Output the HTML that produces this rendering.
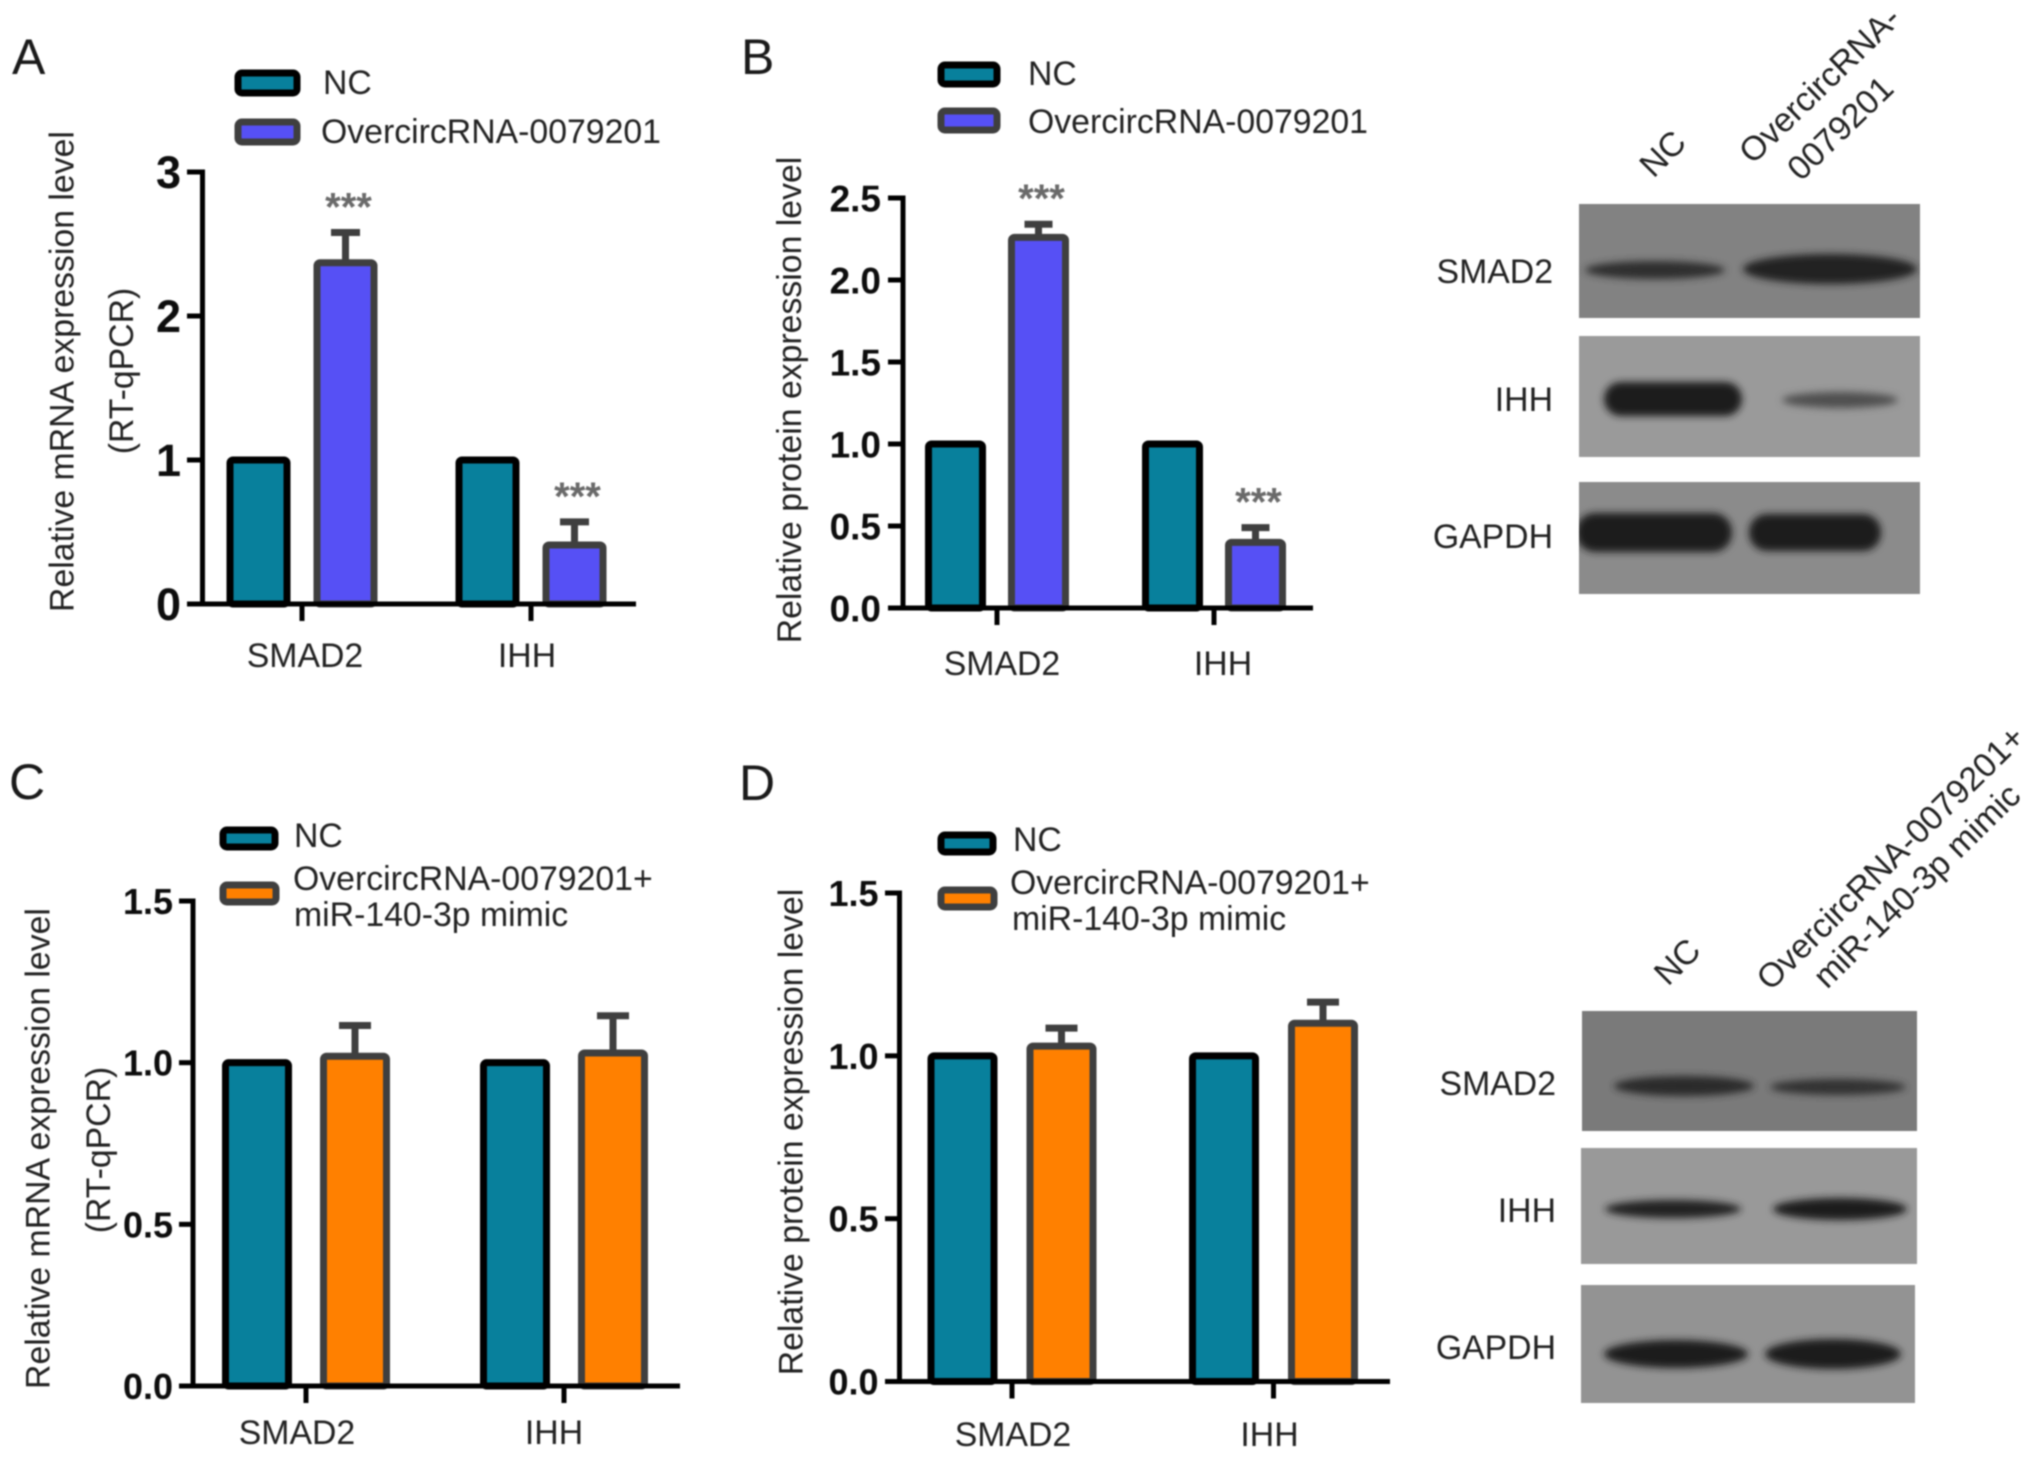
<!DOCTYPE html>
<html lang="en">
<head>
<meta charset="utf-8">
<title>SMAD2 and IHH expression</title>
<style>
html,body{margin:0;padding:0;background:#fff;width:2031px;height:1460px;overflow:hidden}
svg{display:block;filter:blur(0.8px)}
text{font-family:"Liberation Sans",Arial,sans-serif;fill:#222;font-size:33.8px}
.letter{font-size:50px;fill:#1a1a1a}
.lbl{text-anchor:end}
</style>
</head>
<body>
<svg id="figure" xmlns="http://www.w3.org/2000/svg" width="2031" height="1460" viewBox="0 0 2031 1460">
  <defs>
    <filter id="b3" x="-20%" y="-80%" width="140%" height="260%"><feGaussianBlur stdDeviation="3.6"/></filter>
    <clipPath id="clip-top-blot"><rect x="1579" y="204" width="341" height="390"/></clipPath>
  </defs>

  <rect width="2031" height="1460" fill="#ffffff"/>

  <text class="letter" x="12" y="74">A</text>
  <text class="letter" x="741" y="74">B</text>
  <text class="letter" x="9" y="799">C</text>
  <text class="letter" x="739" y="800">D</text>

  <!-- Y axis titles -->
  <text text-anchor="middle" transform="translate(73.5,371.5) rotate(-90)">Relative mRNA expression level</text>
  <text text-anchor="middle" transform="translate(133,371) rotate(-90)">(RT-qPCR)</text>
  <text text-anchor="middle" transform="translate(801,400) rotate(-90)">Relative protein expression level</text>
  <text text-anchor="middle" transform="translate(49.5,1148.5) rotate(-90)">Relative mRNA expression level</text>
  <text text-anchor="middle" transform="translate(110,1150) rotate(-90)">(RT-qPCR)</text>
  <text text-anchor="middle" transform="translate(802.5,1132) rotate(-90)">Relative protein expression level</text>

  <!-- Legends -->
  <g>
    <rect x="238" y="73" width="59" height="20" rx="4" fill="#08809c" stroke="#000" stroke-width="7"/>
    <text x="323" y="94">NC</text>
    <rect x="238" y="122" width="59" height="20" rx="4" fill="#5650f5" stroke="#3f3f3f" stroke-width="7"/>
    <text x="321" y="143">OvercircRNA-0079201</text>
  </g>
  <g>
    <rect x="941" y="65" width="56" height="19" rx="4" fill="#08809c" stroke="#000" stroke-width="7"/>
    <text x="1028" y="85">NC</text>
    <rect x="941" y="111" width="56" height="19" rx="4" fill="#5650f5" stroke="#3f3f3f" stroke-width="7"/>
    <text x="1028" y="133">OvercircRNA-0079201</text>
  </g>
  <g>
    <rect x="223" y="830" width="52" height="17" rx="4" fill="#08809c" stroke="#000" stroke-width="7"/>
    <text x="294" y="847">NC</text>
    <rect x="223" y="885" width="53" height="17" rx="4" fill="#ff8000" stroke="#3f3f3f" stroke-width="7"/>
    <text x="293" y="890">OvercircRNA-0079201+</text>
    <text x="294" y="926">miR-140-3p mimic</text>
  </g>
  <g>
    <rect x="941" y="835" width="52" height="17" rx="4" fill="#08809c" stroke="#000" stroke-width="7"/>
    <text x="1013" y="851">NC</text>
    <rect x="941" y="890" width="53" height="17" rx="4" fill="#ff8000" stroke="#3f3f3f" stroke-width="7"/>
    <text x="1010" y="894">OvercircRNA-0079201+</text>
    <text x="1012" y="930">miR-140-3p mimic</text>
  </g>

  <!-- Western blot, top -->
  <g>
    <text text-anchor="middle" dominant-baseline="central" transform="translate(1663,154) rotate(-45)">NC</text>
    <text text-anchor="middle" dominant-baseline="central" transform="translate(1820,85) rotate(-44)">OvercircRNA-</text>
    <text text-anchor="middle" dominant-baseline="central" transform="translate(1840.5,128.5) rotate(-44)">0079201</text>

    <text class="lbl" x="1553" y="283">SMAD2</text>
    <text class="lbl" x="1553" y="411">IHH</text>
    <text class="lbl" x="1553" y="548">GAPDH</text>

    <rect x="1579" y="204" width="341" height="114" fill="#828282"/>
    <rect x="1579" y="336" width="341" height="121" fill="#9a9a9a"/>
    <rect x="1579" y="482" width="341" height="112" fill="#8b8b8b"/>

    <ellipse cx="1655" cy="270" rx="70" ry="9" fill="#2e2e2e" filter="url(#b3)"/>
    <ellipse cx="1830" cy="269" rx="87" ry="15" fill="#222" filter="url(#b3)" clip-path="url(#clip-top-blot)"/>
    <rect x="1604" y="382" width="138" height="34" rx="17" fill="#1c1c1c" filter="url(#b3)"/>
    <ellipse cx="1840" cy="400" rx="58" ry="8" fill="#505050" filter="url(#b3)"/>
    <rect x="1576" y="513" width="156" height="39" rx="19" fill="#1e1e1e" filter="url(#b3)" clip-path="url(#clip-top-blot)"/>
    <rect x="1749" y="514" width="132" height="37" rx="18" fill="#1e1e1e" filter="url(#b3)"/>
  </g>

  <!-- Western blot, bottom -->
  <g>
    <text text-anchor="middle" dominant-baseline="central" transform="translate(1677.5,962) rotate(-45)">NC</text>
    <text text-anchor="middle" dominant-baseline="central" transform="translate(1891,858) rotate(-44.5)">OvercircRNA-0079201+</text>
    <text text-anchor="middle" dominant-baseline="central" transform="translate(1917,886) rotate(-44.5)">miR-140-3p mimic</text>

    <text class="lbl" x="1556" y="1095">SMAD2</text>
    <text class="lbl" x="1556" y="1222">IHH</text>
    <text class="lbl" x="1556" y="1359">GAPDH</text>

    <rect x="1582" y="1011" width="335" height="120" fill="#7a7a7a"/>
    <rect x="1581" y="1148" width="336" height="116" fill="#999999"/>
    <rect x="1581" y="1285" width="334" height="118" fill="#939393"/>

    <ellipse cx="1684" cy="1086" rx="70" ry="10" fill="#2a2a2a" filter="url(#b3)"/>
    <ellipse cx="1838" cy="1087" rx="68" ry="8" fill="#303030" filter="url(#b3)"/>
    <ellipse cx="1673" cy="1209" rx="68" ry="9" fill="#222" filter="url(#b3)"/>
    <ellipse cx="1840" cy="1209" rx="67" ry="11" fill="#1c1c1c" filter="url(#b3)"/>
    <ellipse cx="1676" cy="1354" rx="72" ry="14" fill="#1c1c1c" filter="url(#b3)"/>
    <ellipse cx="1833" cy="1354" rx="68" ry="15" fill="#1c1c1c" filter="url(#b3)"/>
  </g>
</svg>

<script>
// Panel A data
const panelACategories = ['SMAD2', 'IHH'];
const panelANc = [1, 1];
const panelATreated = [2.37, 0.41];
const panelAErrorTop = [2.58, 0.57];
const panelATicks = ['0', '1', '2', '3'];
const panelASignificance = ['***', '***'];

// Panel B data
const panelBCategories = ['SMAD2', 'IHH'];
const panelBNc = [1, 1];
const panelBTreated = [2.26, 0.40];
const panelBErrorTop = [2.34, 0.49];
const panelBTicks = ['0.0', '0.5', '1.0', '1.5', '2.0', '2.5'];
const panelBSignificance = ['***', '***'];

// Panel C data
const panelCCategories = ['SMAD2', 'IHH'];
const panelCNc = [1, 1];
const panelCTreated = [1.02, 1.03];
const panelCErrorTop = [1.115, 1.145];
const panelCTicks = ['0.0', '0.5', '1.0', '1.5'];
const panelCSignificance = ['', ''];

// Panel D data
const panelDCategories = ['SMAD2', 'IHH'];
const panelDNc = [1, 1];
const panelDTreated = [1.03, 1.10];
const panelDErrorTop = [1.085, 1.165];
const panelDTicks = ['0.0', '0.5', '1.0', '1.5'];
const panelDSignificance = ['', ''];

const SVG_NS = 'http://www.w3.org/2000/svg';
const figure = document.getElementById('figure');

function make(tag, props, parent) {
  const node = document.createElementNS(SVG_NS, tag);
  for (const key in props) node.setAttribute(key, props[key]);
  parent.appendChild(node);
  return node;
}

function drawPanel(id, layout, cats, nc, treated, errTop, ticks, sig) {
  const group = make('g', {}, figure);
  
  

  const maxTick = parseFloat(ticks[ticks.length - 1]);
  const yPos = v => layout.y0 - (v / maxTick) * (layout.y0 - layout.yTop);
  const xPos = i => layout.tick0 + layout.tickStep * i;

  // error bars behind the bars
  treated.forEach((v, i) => {
    const cx = xPos(i) + layout.offset;
    const stem = make('line', {x1: cx, x2: cx, y1: yPos(v), y2: yPos(errTop[i]), stroke: '#3f3f3f', 'stroke-width': 7}, group);
    
    
    const cap = make('line', {x1: cx - layout.capW / 2, x2: cx + layout.capW / 2, y1: yPos(errTop[i]), y2: yPos(errTop[i]), stroke: '#3f3f3f', 'stroke-width': 7}, group);
    
    
    if (sig[i]) {
      const star = make('text', {x: cx + 3, y: yPos(errTop[i]) - 12, 'text-anchor': 'middle', style: 'font-size:40px;font-weight:700;fill:#6a6a6a'}, group);
      star.textContent = sig[i];
      
      
    }
  });

  // bars
  const inner = layout.barW - 7;
  nc.forEach((v, i) => {
    const cx = xPos(i) - layout.offset;
    const bar = make('rect', {x: cx - inner / 2, y: yPos(v), width: inner, height: layout.y0 - yPos(v), rx: 3, fill: '#08809c', stroke: '#000', 'stroke-width': 7}, group);
    
    
  });
  treated.forEach((v, i) => {
    const cx = xPos(i) + layout.offset;
    const bar = make('rect', {x: cx - inner / 2, y: yPos(v), width: inner, height: layout.y0 - yPos(v), rx: 3, fill: layout.color, stroke: '#3f3f3f', 'stroke-width': 7}, group);
    
    
  });

  // axes
  const yAxis = make('line', {x1: layout.axisX, x2: layout.axisX, y1: layout.yTop - 2.5, y2: layout.y0 + 2.5, stroke: '#000', 'stroke-width': 5}, group);
  
  
  const xAxis = make('line', {x1: layout.xStart, x2: layout.xEnd, y1: layout.y0, y2: layout.y0, stroke: '#000', 'stroke-width': 5}, group);
  
  

  ticks.forEach(label => {
    const v = parseFloat(label);
    const mark = make('line', {x1: layout.xStart, x2: layout.axisX, y1: yPos(v), y2: yPos(v), stroke: '#000', 'stroke-width': 5}, group);
    
    
    const txt = make('text', {x: layout.labelRight, y: yPos(v) + layout.tickFont * 0.36, 'text-anchor': 'end', style: 'font-weight:700;fill:#0d0d0d;font-size:' + layout.tickFont + 'px'}, group);
    txt.textContent = label;
    
    
  });

  cats.forEach((name, i) => {
    const mark = make('line', {x1: xPos(i), x2: xPos(i), y1: layout.y0, y2: layout.y0 + 17, stroke: '#000', 'stroke-width': 5}, group);
    
    
    const txt = make('text', {x: xPos(i) + layout.catDx[i], y: layout.catY, 'text-anchor': 'middle'}, group);
    txt.textContent = name;
    
    
  });
}

drawPanel('a', {axisX: 202.5, y0: 604, yTop: 172, xStart: 187, xEnd: 636, tick0: 302, tickStep: 229, offset: 43.5, barW: 64, capW: 29, labelRight: 181, tickFont: 45, catY: 667, catDx: [3, -4], color: '#5650f5'},
  panelACategories, panelANc, panelATreated, panelAErrorTop, panelATicks, panelASignificance);
drawPanel('b', {axisX: 903, y0: 608, yTop: 198, xStart: 888, xEnd: 1313, tick0: 997, tickStep: 217, offset: 41.5, barW: 61, capW: 28, labelRight: 881, tickFont: 37, catY: 675, catDx: [5, 9], color: '#5650f5'},
  panelBCategories, panelBNc, panelBTreated, panelBErrorTop, panelBTicks, panelBSignificance);
drawPanel('c', {axisX: 193, y0: 1386, yTop: 901, xStart: 179, xEnd: 680, tick0: 306, tickStep: 258, offset: 49, barW: 70, capW: 32, labelRight: 173, tickFont: 36, catY: 1444, catDx: [-9, -10], color: '#ff8000'},
  panelCCategories, panelCNc, panelCTreated, panelCErrorTop, panelCTicks, panelCSignificance);
drawPanel('d', {axisX: 899.5, y0: 1381.5, yTop: 893, xStart: 885, xEnd: 1390, tick0: 1012, tickStep: 261.5, offset: 49.5, barW: 70, capW: 32, labelRight: 878.5, tickFont: 36, catY: 1446, catDx: [1, -4], color: '#ff8000'},
  panelDCategories, panelDNc, panelDTreated, panelDErrorTop, panelDTicks, panelDSignificance);
</script>
</body>
</html>
